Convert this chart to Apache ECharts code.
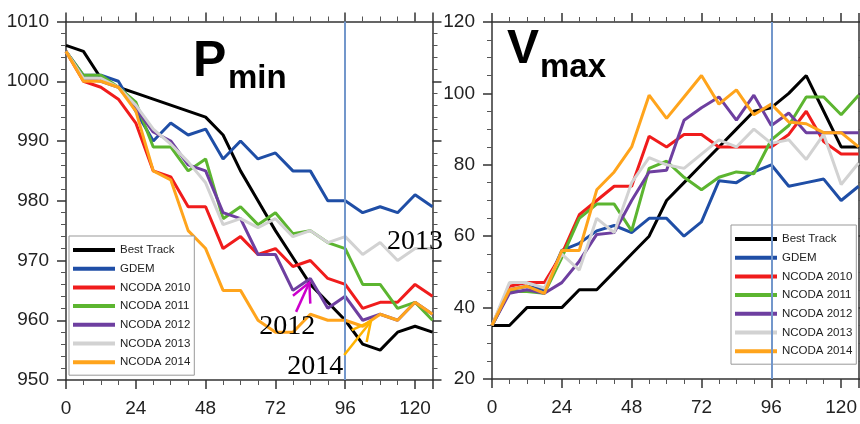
<!DOCTYPE html>
<html><head><meta charset="utf-8">
<script src="https://cdn.jsdelivr.net/npm/echarts/dist/echarts.min.js"></script>
<style>html,body{margin:0;padding:0;background:#fff}#c{width:860px;height:424px}</style>
</head><body><div id="c"></div>
<script>
const hours = [0,6,12,18,24,30,36,42,48,54,60,66,72,78,84,90,96,102,108,114,120,126];
const seriesNames = ['Best Track','GDEM','NCODA 2010','NCODA 2011','NCODA 2012','NCODA 2013','NCODA 2014'];
const seriesColors = ['#000000','#1f4ea6','#f01c1c','#5cb530','#6e3fa0','#d2d2d2','#ffa41c'];

const pminBest = [1006,1005,1000.5,999,998,997,996,995,994,991,985,980,975,970.5,966,963,960,956,955,958,959,958];
const pminGdem = [1005,1001,1001,1000,995,990,993,991,992,987,990,987,988,985,985,980,980,978,979,978,981,979];
const pmin2010 = [1005,1000,999,997,993,985,984,979,979,972,974,971,972,969,970,967,966,962,963,963,966,964];
const pmin2011 = [1005,1001,1001,999,996.5,989,989,985,987,977,979,976,978,974.5,975,973,972,966,966,962,963,960];
const pmin2012 = [1005,1000.5,1000,999,995.5,991.5,990,986,985,978,977,971,971,965,967,962,964,960,961,960,963,961];
const pmin2013 = [1005,1000.5,1000.5,999,996,992,989.5,986.5,983,976,977,975.5,977,974,975,973,974,971,973,970,972,972];
const pmin2014 = [1005,1000,1000,999,995,985,983.5,975,972,965,965,960,958,958,961,960,960,959,961,960,963,961];

const vmaxBest = [35,35,40,40,40,45,45,50,55,60,70,75,80,85,90,95,96,100,105,95,85,85];
const vmaxGdem = [35,45,46,45,56,58,61.5,63,61,65,65,60,64,75.5,75,78,80,74,75,76,70,74];
const vmax2010 = [35,46,47,47,55,66,70,74,74,88,85,88.5,88.5,85,85,85,85,88.5,95,86.5,83,83];
const vmax2011 = [35,44.5,44.5,44,54,65,69,69,61.5,79,81,76.5,73,76.5,78,77.5,87,91,99,99,94,99.5];
const vmax2012 = [35,44,45,44,47,53,60.5,61,70,78,78.5,92.5,96,99,92.5,99.5,91,94.5,89,89,89,89];
const vmax2013 = [35,47,47,45.5,55,50.5,65,61,75,82,80,79,83,87,85,90,86,87,81.5,88.5,74.5,80.5];
const vmax2014 = [35,45,46,44,56,56,73,78,85,99.5,93,99,105,97,101,94,97,92,91.5,89,89,85];

const xRange = [0,126,24];
const pminRange = [950,1010,10];
const vmaxRange = [20,120,20];
const refHour = 96;

const pminSets = [pminBest,pminGdem,pmin2010,pmin2011,pmin2012,pmin2013,pmin2014];
const vmaxSets = [vmaxBest,vmaxGdem,vmax2010,vmax2011,vmax2012,vmax2013,vmax2014];

const NARROW = "'Liberation Sans Narrow','Arial Narrow','Liberation Sans',Arial,sans-serif";
const BOLD = "'Liberation Sans',Arial,Helvetica,sans-serif";
const SERIF = "'Liberation Serif','Times New Roman',serif";

function axisCommon(showLabel, margin){
  return {
    axisLine:{show:true,onZero:false,lineStyle:{color:'#333',width:1.5}},
    axisTick:{show:true,inside:false,length:9,lineStyle:{color:'#333',width:1.5}},
    minorTick:{show:true,length:5,lineStyle:{color:'#555',width:1}},
    splitLine:{show:false},minorSplitLine:{show:false},
    axisLabel:{show:showLabel,margin:margin,fontFamily:NARROW,fontSize:19,color:'#222',formatter:v=>String(v)}
  };
}
function xAxisDef(grid,pos,labels){
  const a = axisCommon(labels,19);
  return Object.assign({type:'value',gridIndex:grid,position:pos,min:xRange[0],max:xRange[1],interval:xRange[2]},a,
    {minorTick:Object.assign(a.minorTick,{splitNumber:4})});
}
function yAxisDef(grid,pos,labels,r,split){
  const a = axisCommon(labels,17);
  return Object.assign({type:'value',gridIndex:grid,position:pos,min:r[0],max:r[1],interval:r[2]},a,
    {minorTick:Object.assign(a.minorTick,{splitNumber:split})});
}

const series = [];
function addPanel(sets, xi, yi){
  sets.forEach((arr,k)=>{
    series.push({
      type:'line', name:seriesNames[k], xAxisIndex:xi, yAxisIndex:yi,
      data: hours.map((h,i)=>[h,arr[i]]),
      symbol:'none', smooth:false,
      lineStyle:{color:seriesColors[k],width:3}, itemStyle:{color:seriesColors[k]},
      z: 2, animation:false
    });
  });
  series.push({
    type:'line', xAxisIndex:xi, yAxisIndex:yi, data:[], z:10, animation:false,
    markLine:{silent:true,symbol:['none','none'],label:{show:false},
      lineStyle:{color:'#7397cb',width:2,type:'solid'},data:[{xAxis:refHour}]}
  });
}
addPanel(pminSets,0,0);
addPanel(vmaxSets,2,2);

function legendDef(left,top){
  return {left:left,top:top,orient:'vertical',data:seriesNames,icon:'rect',itemWidth:42,itemHeight:4,itemGap:2.7,
    padding:[6,4,5,4],borderColor:'#999',borderWidth:1,backgroundColor:'#fff',selectedMode:false,z:4,
    textStyle:{fontFamily:NARROW,fontSize:11.5,lineHeight:16,color:'#222'}};
}

const option = {
  animation:false,
  backgroundColor:'#fff',
  grid:[{left:66,top:21.5,width:366.5,height:358.5},{left:492,top:22,width:368,height:357}],
  xAxis:[xAxisDef(0,'bottom',true),xAxisDef(0,'top',false),xAxisDef(1,'bottom',true),xAxisDef(1,'top',false)],
  yAxis:[yAxisDef(0,'left',true,pminRange,5),yAxisDef(0,'right',false,pminRange,5),
         yAxisDef(1,'left',true,vmaxRange,4),yAxisDef(1,'right',false,vmaxRange,4)],
  legend:[legendDef(69,236),legendDef(731,225)],
  series:series
};
const chart = echarts.init(document.getElementById('c'),null,{renderer:'canvas'});
chart.setOption(option);

// annotations (data coordinates, left panel)
const notes = [
  {text:'2013',at:[120,973.1]},
  {text:'2012',at:[76.1,958.9]},
  {text:'2014',at:[85.7,952.2]}
];
const arrows = [
  {tail:[79.1,961.4],tip:[83.66,966.3],color:'#cc00cc'},
  {tail:[95.66,954.2],tip:[104.8,959.8],color:'#ffb300'}
];
const px = p => chart.convertToPixel({xAxisIndex:0,yAxisIndex:0},p);
const graphics = [
  {type:'text',x:193,y:62,style:{text:'P',font:'bold 50px '+BOLD,fill:'#000',verticalAlign:'middle',align:'left'},z:20},
  {type:'text',x:228,y:79,style:{text:'min',font:'bold 33px '+BOLD,fill:'#000',verticalAlign:'middle',align:'left'},z:20},
  {type:'text',x:507,y:50,style:{text:'V',font:'bold 48px '+BOLD,fill:'#000',verticalAlign:'middle',align:'left'},z:20},
  {type:'text',x:540,y:68,style:{text:'max',font:'bold 33px '+BOLD,fill:'#000',verticalAlign:'middle',align:'left'},z:20}
];
notes.forEach(n=>{
  const p = px(n.at);
  graphics.push({type:'text',x:p[0],y:p[1],style:{text:n.text,font:'28px '+SERIF,fill:'#000',align:'center',verticalAlign:'middle'},z:20});
});
arrows.forEach(a=>{
  const t = px(a.tip), s = px(a.tail);
  const ang = Math.atan2(s[1]-t[1], s[0]-t[0]);
  const L = 21, d = 27*Math.PI/180;
  const b1 = [t[0]+L*Math.cos(ang+d), t[1]+L*Math.sin(ang+d)];
  const b2 = [t[0]+L*Math.cos(ang-d), t[1]+L*Math.sin(ang-d)];
  const st = {stroke:a.color,lineWidth:2.5,fill:null};
  graphics.push({type:'polyline',shape:{points:[s,t]},style:st,z:20});
  graphics.push({type:'polyline',shape:{points:[b1,t,b2]},style:st,z:20});
});
chart.setOption({graphic:graphics});
</script></body></html>
